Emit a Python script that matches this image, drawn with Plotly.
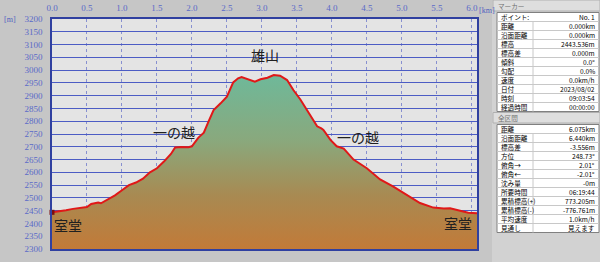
import plotly.graph_objects as go

# ---- data ----
dist_km = [0.00, 0.10, 0.20, 0.30, 0.40, 0.50, 0.56, 0.62, 0.66, 0.70, 0.80, 0.90, 1.00,
           1.10, 1.20, 1.30, 1.40, 1.50, 1.60, 1.70, 1.76, 1.85, 1.95, 2.00, 2.09, 2.17,
           2.24, 2.31, 2.41, 2.50, 2.59, 2.66, 2.71, 2.80, 2.90, 2.98, 3.08, 3.17, 3.26,
           3.36, 3.45, 3.55, 3.64, 3.74, 3.79, 3.85, 3.88, 3.98, 4.07, 4.17, 4.31, 4.50,
           4.69, 4.88, 5.07, 5.26, 5.45, 5.60, 5.69, 5.83, 5.95, 6.075]
elev_m = [2443.5, 2449, 2452, 2457, 2461, 2464, 2476, 2481, 2482, 2479, 2494, 2510, 2530,
          2550, 2560, 2575, 2600, 2616, 2642, 2672, 2697, 2699, 2698, 2702, 2735, 2755,
          2800, 2844, 2870, 2896, 2952, 2968, 2973, 2965, 2955, 2964, 2970, 2981, 2978,
          2961, 2922, 2885, 2845, 2805, 2780, 2772, 2766, 2727, 2702, 2693, 2650, 2616,
          2572, 2544, 2512, 2480, 2462, 2458, 2459, 2449, 2442, 2440]

x_ticks = [0.0, 0.5, 1.0, 1.5, 2.0, 2.5, 3.0, 3.5, 4.0, 4.5, 5.0, 5.5, 6.0]
x_tick_labels = ["0.0", "0.5", "1.0", "1.5", "2.0", "2.5", "3.0", "3.5", "4.0", "4.5", "5.0", "5.5", "6.0"]
y_ticks = list(range(2300, 3201, 50))

place_names = ["室堂", "一の越", "雄山", "一の越", "室堂"]
place_dist = [0.23, 1.75, 3.05, 4.37, 5.8]
place_elev = [2392, 2758, 3058, 2737, 2403]

marker_labels = ["ポイント:", "距離", "沿面距離", "標高", "標高差", "傾斜", "勾配", "速度", "日付", "時刻", "経過時間"]
marker_values = ["No. 1", "0.000km", "0.000km", "2443.536m", "0.000m", "0.0°", "0.0%", "0.0km/h",
                 "2023/08/02", "09:03:54", "00:00:00"]
total_labels = ["距離", "沿面距離", "標高差", "方位", "俯角→", "俯角←", "沈み量", "所要時間",
                "累積標高(+)", "累積標高(-)", "平均速度", "見通し"]
total_values = ["6.075km", "6.440km", "-3.556m", "248.73°", "2.01°", "-2.01°", "-0m", "06:19:44",
                "773.205m", "-776.761m", "1.0km/h", "見えます"]

# ---- layout geometry (pixels) ----
W, H = 600, 262
L, R, T, B = 52, 123, 19, 13
PW, PH = W - L - R, H - T - B


def px(x):
    return (x - L) / PW


def py(y):
    return (H - B - y) / PH


fig = go.Figure()

fig.add_trace(go.Scatter(
    x=dist_km, y=elev_m, mode="lines", line=dict(width=0, color="rgba(0,0,0,0)"),
    fill="tozeroy",
    fillgradient=dict(type="vertical", start=2300, stop=3000,
                      colorscale=[[0, "#c27a38"], [0.3, "#a88a52"], [0.6, "#8aa87c"], [1, "#6cba9c"]]),
    hoverinfo="skip", showlegend=False))

fig.add_trace(go.Scatter(
    x=dist_km, y=elev_m, mode="lines", line=dict(width=2, color="#e01818"),
    showlegend=False))

fig.add_trace(go.Scatter(
    x=dist_km[:1], y=elev_m[:1], mode="markers",
    marker=dict(symbol="square", size=5, color="#7a1010"), showlegend=False, cliponaxis=False))

for name, d, e in zip(place_names, place_dist, place_elev):
    fig.add_annotation(x=d, y=e, text=name, showarrow=False,
                       font=dict(family="Noto Sans CJK JP", size=14, color="#202020"))

shapes = []
annots = []
# right panel background
shapes.append(dict(type="rect", xref="paper", yref="paper", x0=px(492), x1=px(600), y0=py(262), y1=py(0),
                   fillcolor="#d2d2d2", line=dict(width=0), layer="below"))

PANEL_FS = 6.6
ROW_H = 9.0


def header(y0, y1, text):
    shapes.append(dict(type="rect", xref="paper", yref="paper", x0=px(493), x1=px(600), y0=py(y1), y1=py(y0),
                       fillcolor="#dedede", line=dict(color="#b0b0b0", width=1)))
    annots.append(dict(xref="paper", yref="paper", x=px(496), y=py((y0 + y1) / 2), text=text,
                       xanchor="left", yanchor="middle", showarrow=False,
                       font=dict(family="Noto Sans CJK JP", size=PANEL_FS, color="#707070")))


def table(y0, labels, values, rh=ROW_H):
    y1 = y0 + rh * len(labels)
    shapes.append(dict(type="rect", xref="paper", yref="paper", x0=px(497), x1=px(599), y0=py(y1), y1=py(y0),
                       fillcolor="#ffffff", line=dict(color="#808080", width=1)))
    for i, (lab, val) in enumerate(zip(labels, values)):
        yc = y0 + rh * (i + 0.5)
        if i > 0:
            shapes.append(dict(type="line", xref="paper", yref="paper", x0=px(497), x1=px(599),
                               y0=py(y0 + rh * i), y1=py(y0 + rh * i), line=dict(color="#c8c8c8", width=1)))
        annots.append(dict(xref="paper", yref="paper", x=px(499), y=py(yc), text=lab,
                           xanchor="left", yanchor="middle", showarrow=False,
                           font=dict(family="Noto Sans CJK JP", size=PANEL_FS, color="#000000")))
        annots.append(dict(xref="paper", yref="paper", x=px(597), y=py(yc), text=val,
                           xanchor="right", yanchor="middle", showarrow=False,
                           font=dict(family="Noto Sans CJK JP", size=PANEL_FS, color="#000000")))
    shapes.append(dict(type="line", xref="paper", yref="paper", x0=px(533), x1=px(533),
                       y0=py(y1), y1=py(y0 + rh), line=dict(color="#c8c8c8", width=1)))


header(0, 11, "マーカー")
table(12.5, marker_labels, marker_values)
header(112.5, 123, "全区間")
table(124.5, total_labels, total_values)

annots.append(dict(xref="paper", yref="paper", x=px(2), y=py(20), text="[m]", xanchor="left",
                   yanchor="middle", showarrow=False, font=dict(family="Liberation Serif", size=8, color="#5060c0")))
annots.append(dict(xref="paper", yref="paper", x=px(477), y=py(10), text="[km]", xanchor="left",
                   yanchor="middle", showarrow=False, font=dict(family="Liberation Serif", size=8, color="#5060c0")))

for a in annots:
    fig.add_annotation(**a)

fig.update_layout(
    width=W, height=H, margin=dict(l=L, r=R, t=T, b=B, autoexpand=False),
    paper_bgcolor="#c6c6c6", plot_bgcolor="#e4e4e4",
    shapes=shapes, showlegend=False,
    xaxis=dict(range=[0, 6.075], side="top", tickvals=x_ticks, ticktext=x_tick_labels,
               automargin=False,
               showgrid=True, gridcolor="#8890d0", gridwidth=1, griddash="dot",
               showline=True, linecolor="#3040a0", linewidth=1.5, mirror=True, zeroline=False,
               ticks="", ticklabelstandoff=3,
               tickfont=dict(family="Liberation Serif", size=9, color="#5a6ac8")),
    yaxis=dict(range=[2300, 3200], tickvals=y_ticks, automargin=False,
               showgrid=True, gridcolor="#4c5cc4", gridwidth=1,
               showline=True, linecolor="#3040a0", linewidth=1.5, mirror=True, zeroline=False,
               ticks="", ticklabelstandoff=6,
               tickfont=dict(family="Liberation Serif", size=9, color="#5a6ac8")),
)

fig.write_html("out.html")
